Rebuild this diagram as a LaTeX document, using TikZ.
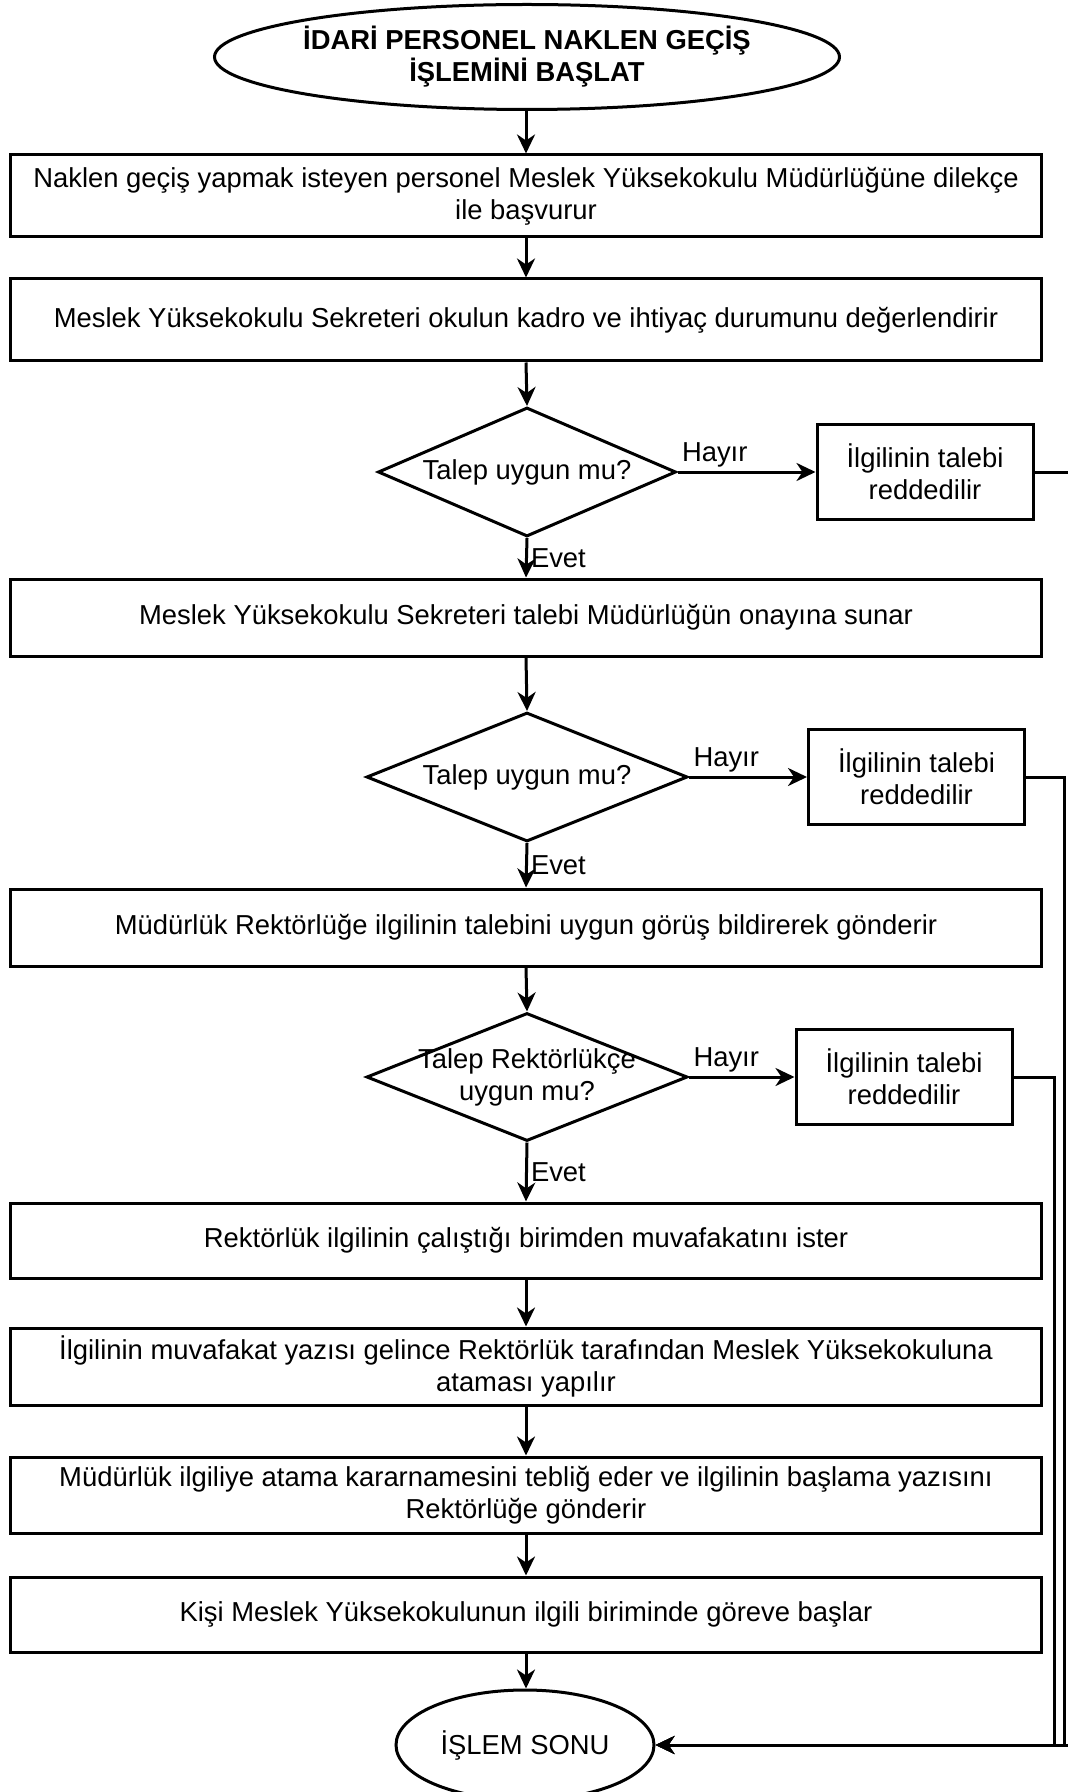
\documentclass[tikz,border=0pt]{standalone}
\usepackage{fontspec}
\setmainfont{Liberation Sans}
\usetikzlibrary{arrows.meta,shapes.geometric}

\tikzset{
  box/.style={draw, line width=1.5pt, minimum width=515.5pt, inner sep=2pt, align=center},
  choice/.style={draw, diamond, line width=1.5pt, inner sep=0pt, align=center},
  reject/.style={draw, line width=1.5pt, minimum width=108pt, minimum height=47.5pt, align=center},
  term/.style={draw, ellipse, line width=1.5pt, inner sep=0pt, align=center},
  arr/.style={-{Stealth[length=9.5pt,width=9pt,inset=3pt]}, line width=1.5pt},
  lbl/.style={inner sep=1.5pt}
}
\newcommand{\zc}[1]{\makebox[0pt]{#1}}

\begin{document}
\begin{tikzpicture}[x=0.5pt, y=-0.5pt, font=\fontsize{13.7}{16}\selectfont]
  \useasboundingbox (0,0) rectangle (1068,1792);

  \node[term, minimum width=312.5pt, minimum height=52.5pt] (start) at (527,57)
    {\bfseries \zc{İDARİ PERSONEL NAKLEN GEÇİŞ}\\ \bfseries İŞLEMİNİ BAŞLAT};
  \node[box, minimum height=41pt] (basvuru) at (526,196)
    {Naklen geçiş yapmak isteyen personel Meslek Yüksekokulu Müdürlüğüne dilekçe\\ ile başvurur};
  \node[box, minimum height=41pt] (degerlendir) at (526,320)
    {Meslek Yüksekokulu Sekreteri okulun kadro ve ihtiyaç durumunu değerlendirir};
  \node[choice, minimum width=149pt, minimum height=64.5pt] (uygun1) at (527,472)
    {\zc{Talep uygun mu?}};
  \node[reject] (red1) at (925,472) {İlgilinin talebi\\ reddedilir};
  \node[box, minimum height=38.5pt] (sunar) at (526,617.5)
    {Meslek Yüksekokulu Sekreteri talebi Müdürlüğün onayına sunar};
  \node[choice, minimum width=160.5pt, minimum height=64.5pt] (uygun2) at (527,777)
    {\zc{Talep uygun mu?}};
  \node[reject] (red2) at (916.5,777) {İlgilinin talebi\\ reddedilir};
  \node[box, minimum height=38.5pt] (gonder) at (526,927.5)
    {Müdürlük Rektörlüğe ilgilinin talebini uygun görüş bildirerek gönderir};
  \node[choice, minimum width=160.5pt, minimum height=64pt] (uygun3) at (527,1077)
    {\zc{Talep Rektörlükçe}\\ \zc{uygun mu?}};
  \node[reject] (red3) at (904,1077) {İlgilinin talebi\\ reddedilir};
  \node[box, minimum height=37.5pt] (muvafakat) at (526,1240.5)
    {Rektörlük ilgilinin çalıştığı birimden muvafakatını ister};
  \node[box, minimum height=38.5pt] (atama) at (526,1366.5)
    {İlgilinin muvafakat yazısı gelince Rektörlük tarafından Meslek Yüksekokuluna\\ ataması yapılır};
  \node[box, minimum height=38pt] (teblig) at (526,1495)
    {Müdürlük ilgiliye atama kararnamesini tebliğ eder ve ilgilinin başlama yazısını\\ Rektörlüğe gönderir};
  \node[box, minimum height=37.5pt] (basla) at (526,1614.5)
    {Kişi Meslek Yüksekokulunun ilgili biriminde göreve başlar};
  \node[term, minimum width=129pt, minimum height=55pt] (son) at (525,1745) {İŞLEM SONU};

  % ana akis
  \draw[arr] (start.south -| basvuru.north) -- (basvuru.north);
  \draw[arr] (basvuru) -- (degerlendir);
  \draw[arr] (degerlendir.south) -- (uygun1.north);
  \draw[arr] (uygun1.south) -- node[lbl, anchor=west] (e1) {Evet} (sunar.north);
  \draw[arr] (sunar.south) -- (uygun2.north);
  \draw[arr] (uygun2.south) -- node[lbl, anchor=west] (e2) {Evet} (gonder.north);
  \draw[arr] (gonder.south) -- (uygun3.north);
  \draw[arr] (uygun3.south) -- node[lbl, anchor=west] (e3) {Evet} (muvafakat.north);
  \draw[arr] (muvafakat) -- (atama);
  \draw[arr] (atama) -- (teblig);
  \draw[arr] (teblig) -- (basla);
  \draw[arr] (basla.south) -- (son.north -| basla.south);

  % red dallari
  \draw[arr] (uygun1.east) -- node[lbl, pos=0, anchor=south west] (h1) {Hayır} (red1.west);
  \draw[arr] (uygun2.east) -- node[lbl, pos=0, anchor=south west] (h2) {Hayır} (red2.west);
  \draw[arr] (uygun3.east) -- node[lbl, pos=0, anchor=south west] (h3) {Hayır} (red3.west);

  \coordinate (k1) at (1070,0);
  \coordinate (k2) at (1064,0);
  \coordinate (k3) at (1054,0);
  \draw[arr] (red1.east) -- (red1.east -| k1) -- (k1 |- son.east) -- (son.east);
  \draw[arr] (red2.east) -- (red2.east -| k2) -- (k2 |- son.east) -- (son.east);
  \draw[arr] (red3.east) -- (red3.east -| k3) -- (k3 |- son.east) -- (son.east);
\end{tikzpicture}
\end{document}
